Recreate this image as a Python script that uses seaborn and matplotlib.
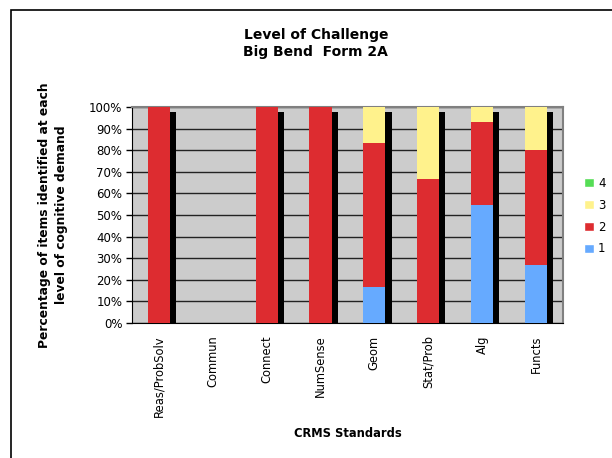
import numpy as np
import pandas as pd
import matplotlib
matplotlib.use("Agg")
import matplotlib.pyplot as plt
import seaborn as sns
from matplotlib.patches import Rectangle, Patch

# Data (percent of items at each level of cognitive demand)
standards = ["Reas/ProbSolv", "Commun", "Connect", "NumSense",
             "Geom", "Stat/Prob", "Alg", "Functs"]
level1 = [0, 0, 0, 0, 16.7, 0, 54.5, 26.7]
level2 = [100, 0, 100, 100, 66.6, 66.7, 38.5, 53.3]
level3 = [0, 0, 0, 0, 16.7, 33.3, 7.0, 20.0]
level4 = [0, 0, 0, 0, 0, 0, 0, 0]

colors = {"1": "#66AAFF", "2": "#DD2C30", "3": "#FFF28C", "4": "#55DD55"}

df = pd.DataFrame({"std": standards, "1": level1, "2": level2,
                   "3": level3, "4": level4})
cum = df[["1", "2", "3", "4"]].cumsum(axis=1)

sns.set_style("white")
plt.rcParams["font.family"] = ["DejaVu Sans"]
plt.rcParams["text.color"] = "black"
plt.rcParams["axes.labelcolor"] = "black"
plt.rcParams["xtick.color"] = "black"
plt.rcParams["ytick.color"] = "black"

fig = plt.figure(figsize=(6.12, 4.58), dpi=100)
ax = fig.add_axes([0.2157, 0.2948, 0.704, 0.4716])
ax.set_facecolor("#CCCCCC")

# 3-D depth face (black) behind each non-empty bar
x = np.arange(len(standards))
totals = cum["4"].values
ax.bar(x + 0.26, np.where(totals > 0, totals - 2.5, 0), width=0.12,
       color="black", zorder=2, linewidth=0)

# stacked bars: draw cumulative heights from top layer down
for lvl in ["4", "3", "2", "1"]:
    sns.barplot(x=df["std"], y=cum[lvl], color=colors[lvl], width=0.41,
                saturation=1, ax=ax, zorder=3, linewidth=0)

ax.set_ylim(0, 100)
ax.set_xlim(-0.5, len(standards) - 0.5)
ax.set_yticks(np.arange(0, 101, 10))
ax.set_yticklabels([f"{v}%" for v in range(0, 101, 10)], fontsize=8.5)
ax.yaxis.grid(True, color="#222222", linewidth=1)
ax.set_axisbelow(True)

ax.set_xticks(x)
ax.set_xticklabels(standards, rotation=90, fontsize=8.3)
ax.set_xticks(np.arange(-0.5, len(standards)), minor=True)
ax.tick_params(axis="x", which="major", length=0, pad=9)
ax.tick_params(axis="x", which="minor", length=4, width=1, color="black",
               direction="out")
ax.tick_params(axis="y", length=4, width=1, color="black", direction="out",
               pad=3, left=True)

for side in ["top", "right"]:
    ax.spines[side].set_color("#808080")
    ax.spines[side].set_linewidth(1.5)
ax.spines["left"].set_color("black")
ax.spines["bottom"].set_color("black")

ax.set_xlabel("CRMS Standards", fontsize=8.3, fontweight="bold", labelpad=7)
ax.set_ylabel("Percentage of items identified at each\nlevel of cognitive demand",
              fontsize=8.8, fontweight="bold", labelpad=15, linespacing=1.45)

fig.text(0.516, 0.905, "Level of Challenge\nBig Bend  Form 2A", ha="center",
         va="center", fontsize=10, fontweight="bold", linespacing=1.35)

handles = [Patch(facecolor=colors[k], label=k) for k in ["4", "3", "2", "1"]]
fig.legend(handles=handles, loc="center left", bbox_to_anchor=(0.955, 0.528),
           frameon=False, fontsize=8.5, handlelength=0.8, handleheight=0.8,
           labelspacing=0.75, handletextpad=0.35, borderpad=0, borderaxespad=0)

# outer chart frame
fig.patches.append(Rectangle((11 / 612, -0.1), 1.2, 1 - 10 / 458 + 0.1,
                             transform=fig.transFigure, fill=False,
                             edgecolor="black", linewidth=1.2))

fig.savefig("out.png", dpi=100)
